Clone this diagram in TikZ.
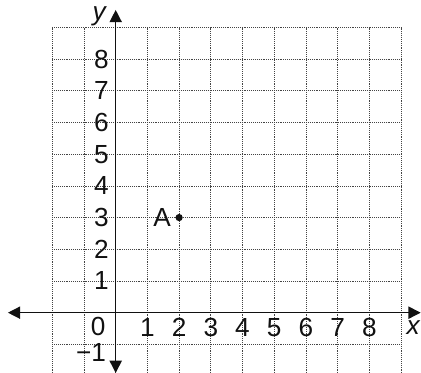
\documentclass[tikz,border=0pt]{standalone}
\usepackage{fontspec}
\setmainfont{Liberation Sans}
\usepackage{xcolor}
\usepackage{tikz}
\usetikzlibrary{arrows.meta}
\definecolor{ink}{HTML}{111111}
\definecolor{gridc}{HTML}{444444}
\tikzset{
  gridln/.style={draw=gridc, line width=0.65pt, dash pattern=on 0.6pt off 1.1pt},
  axis/.style={draw=ink, line width=1.2pt, -{Triangle[length=11pt,width=11pt]}},
  dot/.style={circle, fill=ink, inner sep=0pt, minimum size=6.5pt},
  lab/.style={text=ink, font=\fontsize{23.5}{28}\selectfont, inner sep=0pt},
  labi/.style={lab, font=\fontsize{23.5}{28}\selectfont\itshape},
}
\begin{document}
\begin{tikzpicture}
  \useasboundingbox (-3.65,-1.902) rectangle (9.631,9.864);
  % grid
  \foreach \i in {-2,...,9} \draw[gridln] (\i,-1.902) -- (\i,9);
  \foreach \j in {-1,...,9} \draw[gridln] (-2,\j) -- (9,\j);
  % axes
  \coordinate (O) at (0,0);
  \coordinate (xl) at (-3.40,0);
  \coordinate (xr) at (9.62,0);
  \coordinate (yb) at (0,-1.90);
  \coordinate (yt) at (0,9.55);
  \draw[axis] (O) -- (xr);
  \draw[axis] (O) -- (xl);
  \draw[axis] (O) -- (yt);
  \draw[axis] (O) -- (yb);
  \node[labi] (ylab) at (-0.52,9.36) {y};
  \node[labi] (xlab) at (9.38,-0.46) {x};
  % tick labels
  \foreach \i in {1,...,8} {
    \node[lab] (xn\i) at (\i,-0.46) {\i};
    \node[lab] (yn\i) at (-0.45,\i) {\i};
  }
  \node[lab] (zero) at (-0.55,-0.44) {0};
  \node[lab] (mone) at (-0.78,-1.27) {−1};
  % point A
  \node[dot] (A) at (2,3) {};
  \node[lab] (Alab) at (1.46,3) {A};
\end{tikzpicture}
\end{document}
